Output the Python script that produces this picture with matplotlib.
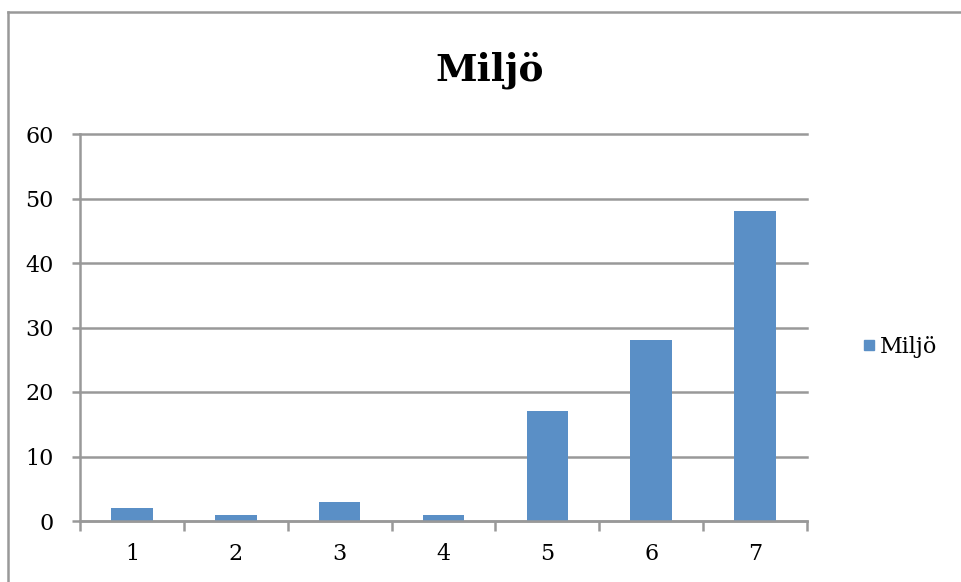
import matplotlib.pyplot as plt
from matplotlib.lines import Line2D

# Responses per scale step
categories = ['1', '2', '3', '4', '5', '6', '7']
values = [2, 1, 3, 1, 17, 28, 48]
yticks = [0, 10, 20, 30, 40, 50, 60]

bar_color = '#5A8FC6'
line_color = '#999999'
serif = ['DejaVu Serif']

fig = plt.figure(figsize=(9.62, 5.82), dpi=100)
ax = fig.add_axes([80 / 962, 1 - 521 / 582, 727 / 962, 387 / 582])

x = list(range(1, len(categories) + 1))
ax.bar(x, values, width=0.4, color=bar_color, label='Miljö', zorder=3)

ax.set_xlim(0.5, len(categories) + 0.5)
ax.set_ylim(0, 60)
ax.set_yticks(yticks)
ax.set_yticklabels([str(v) for v in yticks], fontfamily=serif, fontsize=16)
ax.set_xticks(x)
ax.set_xticklabels(categories, fontfamily=serif, fontsize=16)
ax.set_xticks([i + 0.5 for i in range(len(categories) + 1)], minor=True)

ax.tick_params(axis='x', which='major', length=0, pad=16)
ax.tick_params(axis='x', which='minor', length=7, width=1.8, color=line_color, direction='out')
ax.tick_params(axis='y', length=6, width=1.8, color=line_color, direction='out', pad=13)

ax.yaxis.grid(True, color=line_color, linewidth=1.8, zorder=0)
for gl in ax.get_ygridlines():
    gl.set_clip_on(False)
for side in ['top', 'right']:
    ax.spines[side].set_visible(False)
for side in ['left', 'bottom']:
    ax.spines[side].set_color(line_color)
    ax.spines[side].set_linewidth(1.8)
    ax.spines[side].set_zorder(4)

fig.text(490 / 962, 1 - 70 / 582, 'Miljö', ha='center', va='center',
         fontsize=27, fontweight='bold', fontfamily=serif)

handles = [Line2D([], [], marker='s', linestyle='', markersize=7,
                  markerfacecolor=bar_color, markeredgecolor=bar_color)]
fig.legend(handles, ['Miljö'], loc='center left', bbox_to_anchor=(838 / 962, 1 - 347 / 582),
           frameon=False, handletextpad=0.0, handlelength=1.0,
           prop={'family': serif, 'size': 16})

# chart frame along the top and left edges
fig.add_artist(Line2D([8 / 962, 8 / 962], [0, 1 - 12 / 582], transform=fig.transFigure,
                      color=line_color, linewidth=1.8))
fig.add_artist(Line2D([8 / 962, 1], [1 - 12 / 582, 1 - 12 / 582], transform=fig.transFigure,
                      color=line_color, linewidth=1.8))

fig.savefig('out.png', dpi=100)
